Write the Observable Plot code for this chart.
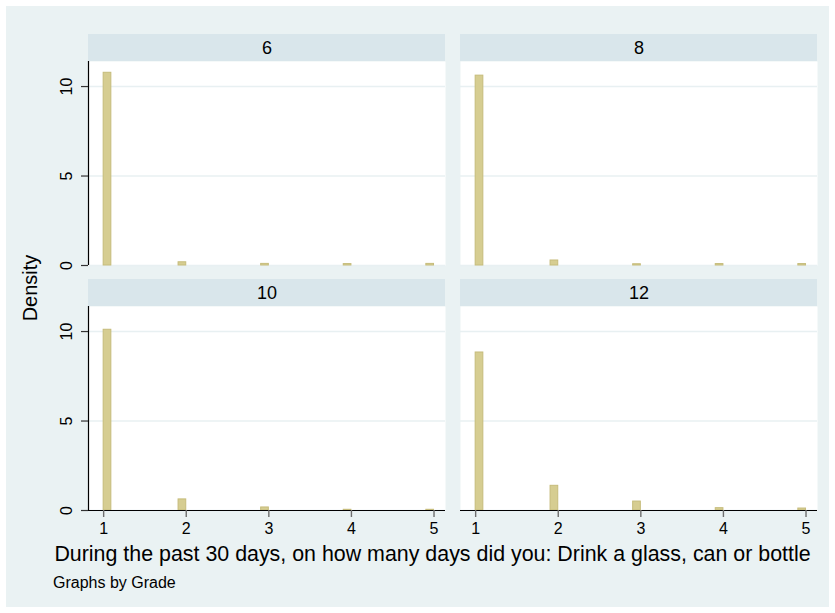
<!DOCTYPE html>
<html>
<head>
<meta charset="utf-8">
<script src="https://cdn.jsdelivr.net/npm/d3@7"></script>
<script src="https://cdn.jsdelivr.net/npm/@observablehq/plot@0.6"></script>
<style>
  body { margin: 0; background: #ffffff; }
  #chart { position: relative; width: 835px; height: 613px; font-family: "Liberation Sans", Arial, sans-serif; color: #000; }
  #bg { position: absolute; left: 6px; top: 6px; width: 823px; height: 601px; background: #eaf2f3; }
  .panel { position: absolute; }
  .txt { position: absolute; white-space: nowrap; line-height: 1; }
</style>
</head>
<body>
<div id="chart"><div id="bg"></div></div>
<script>
// Histogram of drinking days by school grade (density scale)
const grades = ["6", "8", "10", "12"];
const days = [1, 2, 3, 4, 5];
const densityGrade6  = [10.77, 0.18, 0.09, 0.08, 0.09];
const densityGrade8  = [10.61, 0.28, 0.07, 0.08, 0.08];
const densityGrade10 = [10.10, 0.62, 0.17, 0.04, 0.04];
const densityGrade12 = [8.83, 1.38, 0.50, 0.13, 0.11];
const xTicks = [1, 2, 3, 4, 5];
const yTicks = [0, 5, 10];
const xTitle = "During the past 30 days, on how many days did you: Drink a glass, can or bottle";
const yTitle = "Density";
const note = "Graphs by Grade";

const binWidth = 4 / 43;           // histogram bin width on the 1–5 range
const xDomain = [0.8165, 5.139];
const yDomain = [0, 11.4];

const font = "'Liberation Sans', Arial, sans-serif";
const barFill = "#d6cd91";
const barStroke = "#c6bc7b";
const stripFill = "#d9e6eb";
const gridColor = "#e8f0f2";

const chart = document.getElementById("chart");

// strip band drawn in the top margin, over the width of the plot area
function strip(index, scales, values, dims) {
  const r = document.createElementNS("http://www.w3.org/2000/svg", "rect");
  r.setAttribute("x", dims.marginLeft);
  r.setAttribute("y", 0);
  r.setAttribute("width", dims.width - dims.marginLeft - dims.marginRight);
  r.setAttribute("height", dims.marginTop);
  r.setAttribute("fill", stripFill);
  return r;
}

function panel(grade, values, col, row) {
  const isLeft = col === 0;
  const isBottom = row === 1;
  const data = days.map((d, i) => {
    const x1 = d === 1 ? d : d - binWidth;
    return {day: d, density: values[i], x1, x2: x1 + binWidth};
  });
  const marginLeft = isLeft ? 58 : 0;
  const marginTop = 27;
  const marginBottom = isBottom ? 28 : 1;
  const plotW = 357, plotH = 204;

  const marks = [
    Plot.frame({fill: "white", stroke: null}),
    strip,
    Plot.text([grade], {frameAnchor: "top", dy: -13.5, text: d => d, fontSize: 18, lineAnchor: "middle", fill: "black"}),
    Plot.gridY(yTicks, {stroke: gridColor, strokeOpacity: 1, strokeWidth: 1.4}),
    Plot.rect(data, {x1: "x1", x2: "x2", y1: 0, y2: "density", fill: barFill, stroke: barStroke, strokeWidth: 1})
  ];
  if (isLeft) {
    marks.push(
      Plot.ruleX([xDomain[0]], {stroke: "black", strokeWidth: 1.2}),
      Plot.axisY(yTicks, {tickSize: 7, tickFormat: () => "", stroke: "#333", strokeWidth: 1.2}),
      Plot.text(yTicks, {y: d => d, text: d => String(d), frameAnchor: "left", rotate: -90, dx: -17,
                         textAnchor: "middle", lineAnchor: "bottom", fontSize: 16, fill: "black"})
    );
  }
  if (isBottom) {
    marks.push(
      Plot.ruleY([0], {stroke: "black", strokeWidth: 1.2}),
      Plot.axisX(xTicks, {tickSize: 7, tickPadding: 5, stroke: "#6e6e6e", strokeWidth: 1.4, fill: "black", fontSize: 16})
    );
  }

  const svg = Plot.plot({
    width: marginLeft + plotW,
    height: marginTop + plotH + marginBottom,
    marginLeft, marginRight: 0, marginTop, marginBottom,
    style: {background: "transparent", overflow: "visible", fontFamily: font, fontSize: "16px", color: "black"},
    x: {domain: xDomain, label: null, axis: null},
    y: {domain: yDomain, label: null, axis: null},
    marks
  });
  svg.classList.add("panel");
  svg.style.left = (isLeft ? 30 : 460) + "px";
  svg.style.top = (row === 0 ? 34 : 279) + "px";
  chart.appendChild(svg);
}

const series = [densityGrade6, densityGrade8, densityGrade10, densityGrade12];
grades.forEach((g, i) => panel(g, series[i], i % 2, Math.floor(i / 2)));

function addText(text, css) {
  const d = document.createElement("div");
  d.className = "txt";
  d.textContent = text;
  Object.assign(d.style, css);
  chart.appendChild(d);
}
addText(xTitle, {left: "32.5px", width: "800px", textAlign: "center", top: "544.3px", fontSize: "21.4px"});
addText(yTitle, {left: "30px", top: "288px", fontSize: "20px", transform: "translate(-50%, -50%) rotate(-90deg)"});
addText(note, {left: "53px", top: "574.5px", fontSize: "16px"});
</script>
</body>
</html>
